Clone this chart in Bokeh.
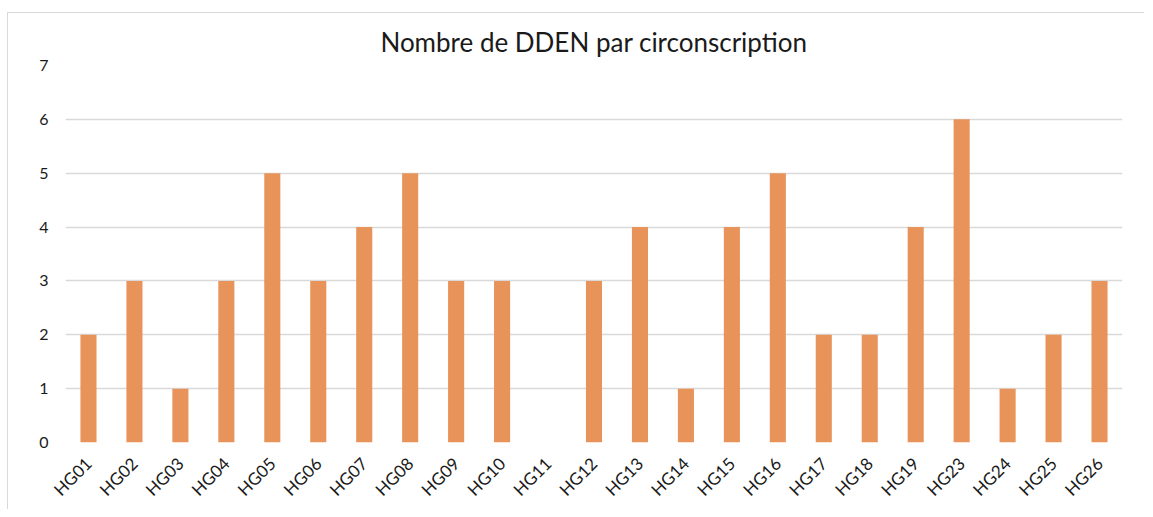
from bokeh.plotting import figure
from bokeh.embed import file_html
from bokeh.resources import INLINE
from bokeh.models import Range1d, FactorRange, FixedTicker
import math

title_text = "Nombre de DDEN par circonscription"
categories = ["HG01", "HG02", "HG03", "HG04", "HG05", "HG06", "HG07", "HG08", "HG09", "HG10",
              "HG11", "HG12", "HG13", "HG14", "HG15", "HG16", "HG17", "HG18", "HG19", "HG23",
              "HG24", "HG25", "HG26"]
values = [2, 3, 1, 3, 5, 3, 4, 5, 3, 3, 0, 3, 4, 1, 4, 5, 2, 2, 4, 6, 1, 2, 3]
y_ticks = [0, 1, 2, 3, 4, 5, 6, 7]

p = figure(x_range=FactorRange(*categories, range_padding=0), y_range=Range1d(0, 7),
           width=1137, height=497, output_backend="svg", toolbar_location=None,
           title=title_text)
p.margin = (12, 0, 0, 7)
p.styles = {"border-top": "1px solid #d9d9d9", "border-left": "1px solid #d9d9d9"}
p.min_border_left = 57
p.min_border_right = 23
p.min_border_top = 52
p.min_border_bottom = 68

p.vbar(x=categories, top=values, width=0.35, fill_color="#E8935A", line_color=None)

p.title.align = "center"
p.title.text_font = "Lato"
p.title.text_font_size = "26px"
p.title.text_font_style = "normal"
p.title.text_color = "#1a1a1a"
p.title.offset = 0
p.title.standoff = 16

p.outline_line_color = None
p.xgrid.grid_line_color = None
p.ygrid.grid_line_color = "#d9d9d9"
p.ygrid.grid_line_width = 1.5
p.yaxis.ticker = FixedTicker(ticks=y_ticks)

for ax in (p.xaxis[0], p.yaxis[0]):
    ax.axis_line_color = None
    ax.major_tick_line_color = None
    ax.minor_tick_line_color = None
    ax.major_label_text_font = "Lato"
    ax.major_label_text_color = "#1a1a1a"

p.yaxis.major_label_text_font_size = "16px"
p.yaxis.major_label_standoff = 11
p.xaxis.major_label_text_font_size = "17px"
p.xaxis.major_label_orientation = math.pi / 4
p.xaxis.major_label_standoff = 12
p.xaxis.group_text_font_size = "0px"

open("out.html", "w").write(file_html(p, INLINE))
